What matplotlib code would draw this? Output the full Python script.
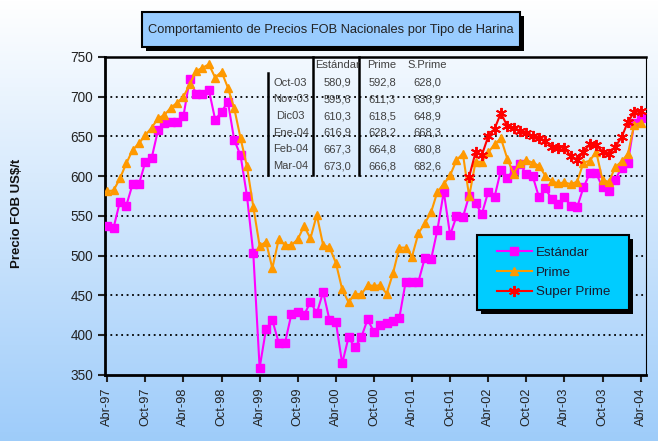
import matplotlib
matplotlib.use("Agg")
import matplotlib.pyplot as plt
from matplotlib.patches import Rectangle
import numpy as np

plt.rcParams["font.family"] = ["Liberation Sans Narrow", "Liberation Sans", "DejaVu Sans"]

## ----- data (Abr-97 ... , monthly) -----
estandar = [537.5, 535, 568, 563, 590, 590, 618, 623, 658, 667,
            668.5, 668.5, 675.7, 722.3, 703.4, 703.4, 708.8, 671, 681, 693.7,
            645.5, 626, 575.3, 502.8, 358.7, 407, 418.8, 390.2, 390.2, 426.3,
            429.2, 425, 441.8, 427.2, 454.4, 418.8, 416.7, 364.2, 397, 384.4,
            397, 419.6, 404, 412, 414.6, 417.5, 421.6, 467, 467, 467,
            496.5, 495.2, 532.5, 580.4, 525.8, 549.5, 548, 575.5, 565.7, 552.3,
            580.4, 574, 607.7, 597.8, 608, 615.5, 602.6, 600, 573.3, 584.6,
            570.8, 564.9, 574, 562.3, 560.7, 585.9, 603.5, 603.5, 585.9, 580.9,
            595.6, 610.3, 616.9, 667.3, 673.0]

prime = [581, 582, 597.2, 616, 633, 641.3, 651.8, 661, 672.8, 677,
         686, 692.4, 700, 715.6, 732.4, 736.5, 740.8, 724, 731.5, 711.4,
         685.4, 647.6, 612.3, 561.5, 512, 517.4, 483.9, 520.3, 513.2, 513.2,
         520.3, 537.2, 521.6, 551, 513.2, 510.3, 491, 457.4, 441.2, 452,
         451, 462.4, 462, 462.4, 452, 477.6, 510, 510, 498.8, 528,
         540.5, 554.6, 580.4, 590, 601, 620, 628.5, 574.5, 618, 618,
         630, 640, 647.6, 622, 603, 617, 620, 617, 613, 600.4,
         593.6, 591, 592, 590, 593, 617, 619.4, 630.8, 595, 592.8,
         611.3, 618.5, 628.2, 664.8, 666.8]

# Super Prime starts 57 months after the first point
sprime_start = 57
super_prime = [599.3, 630, 626.6, 650, 659.6, 679.5, 663, 660.2, 657.2, 654.7,
               650, 648, 644.6, 637, 636, 636, 625, 620, 630.8, 640,
               639, 631, 628.0, 636.9, 648.9, 668.3, 680.8, 682.6]

x_labels = ["Abr-97", "Oct-97", "Abr-98", "Oct-98", "Abr-99", "Oct-99", "Abr-00",
            "Oct-00", "Abr-01", "Oct-01", "Abr-02", "Oct-02", "Abr-03", "Oct-03",
            "Abr-04"]

# small table in the chart
tab_months = ["Oct-03", "Nov-03", "Dic03", "Ene-04", "Feb-04", "Mar-04"]
tab_est = [580.9, 595.6, 610.3, 616.9, 667.3, 673.0]
tab_prime = [592.8, 611.3, 618.5, 628.2, 664.8, 666.8]
tab_sprime = [628.0, 636.9, 648.9, 668.3, 680.8, 682.6]
tab_header = ["Estándar", "Prime", "S.Prime"]

## ----- figure -----
W, H = 658, 441
fig = plt.figure(figsize=(W / 100, H / 100), dpi=100)


def fx(p):
    return p / W


def fy(p):
    return 1 - p / H


# background gradient
bg = fig.add_axes([0, 0, 1, 1], zorder=-10)
grad = np.linspace(0, 1, 256)[:, None]
top = np.array([1.0, 1.0, 1.0])
bot = np.array([0.62, 0.80, 0.98])
img = top[None, None, :] * (1 - grad[..., None]) + bot[None, None, :] * grad[..., None]
bg.imshow(img, aspect="auto", extent=[0, 1, 0, 1])
bg.axis("off")

ax = fig.add_axes([fx(104.7), fy(374.7), fx(645.7) - fx(104.7), fy(57) - fy(374.7)])
ax.set_facecolor("none")

x = np.arange(len(estandar))
x_sp = np.arange(sprime_start, sprime_start + len(super_prime))

lw0 = 1.5
ax.plot(x, estandar, color="#ff00ff", lw=lw0, marker="s", ms=5.2, mec="#ff00ff",
        label="Estándar", zorder=3)
ax.plot(x, prime, color="#ff9900", lw=lw0, marker="^", ms=5.5, mec="#ff9900",
        label="Prime", zorder=4)
ax.plot(x_sp, super_prime, color="#ff0000", lw=lw0, marker=(6, 2, 0), ms=8, mew=1.4,
        mec="#ff0000", label="Super Prime", zorder=5)

ax.set_xlim(-0.4, 84.8)
ax.set_ylim(350, 750)
ax.set_xticks(np.arange(0, 85, 6), x_labels, rotation=90)
ax.set_yticks(np.arange(350, 751, 50))
ax.tick_params(axis="both", labelsize=9.2, colors="#222222", direction="out",
               length=5, width=1.5)
ax.tick_params(axis="x", pad=4)
ax.tick_params(axis="y", labelsize=9.8)

for v in range(400, 701, 50):
    ax.axhline(v, color="black", lw=1.3, ls=(0, (1, 2)), zorder=1)

for s in ["left", "bottom"]:
    ax.spines[s].set_linewidth(2)
ax.spines["top"].set_linewidth(1.8)
ax.spines["right"].set_linewidth(0.8)

fig.text(fx(17), fy(213), "Precio FOB US\\$/t", rotation=90, ha="center", va="center",
         fontsize=9.5, fontweight="bold", color="#111111")

## ----- title box -----
fig.patches.append(Rectangle((fx(146), fy(51)), fx(524) - fx(146), fy(16) - fy(51),
                             transform=fig.transFigure, facecolor="black", zorder=5))
fig.patches.append(Rectangle((fx(142), fy(47)), fx(520) - fx(142), fy(12) - fy(47),
                             transform=fig.transFigure, facecolor="#99ccff",
                             edgecolor="black", lw=1.5, zorder=6))
fig.text(fx(331), fy(30), "Comportamiento de Precios FOB Nacionales por Tipo de Harina",
         ha="center", va="center", fontsize=9.3, color="#222222", zorder=7)

## ----- table -----
tcol = "#404040"
fs_t = 8
col_x = [290.7, 337, 382, 427.5]
for c, h in zip(col_x[1:], tab_header):
    fig.text(fx(c), fy(65), h, ha="center", va="center", fontsize=fs_t, color=tcol)
for i, m in enumerate(tab_months):
    yy = fy(82.7 + 16.7 * i)
    fig.text(fx(col_x[0]), yy, m, ha="center", va="center", fontsize=fs_t, color=tcol)
    for c, vals in zip(col_x[1:], [tab_est, tab_prime, tab_sprime]):
        fig.text(fx(c), yy, f"{vals[i]:.1f}".replace(".", ","), ha="center",
                 va="center", fontsize=fs_t, color=tcol)

fig.lines.append(plt.Line2D([fx(267.5)] * 2, [fy(73), fy(175)], color="black", lw=1.8,
                            transform=fig.transFigure))
for xl in [313.3, 359.3]:
    fig.lines.append(plt.Line2D([fx(xl)] * 2, [fy(57), fy(175)], color="black", lw=1.8,
                                transform=fig.transFigure))

## ----- legend box -----
fig.patches.append(Rectangle((fx(481), fy(314)), fx(633) - fx(481), fy(239) - fy(314),
                             transform=fig.transFigure, facecolor="black", zorder=8))
fig.patches.append(Rectangle((fx(477), fy(310)), fx(629) - fx(477), fy(235) - fy(310),
                             transform=fig.transFigure, facecolor="#00ccff",
                             edgecolor="black", lw=1.5, zorder=9))
leg = ax.legend(loc="center left", bbox_to_anchor=(fx(497), fy(272.5)),
                bbox_transform=fig.transFigure, frameon=False, fontsize=9.6,
                handlelength=2.6, handletextpad=0.3, labelspacing=0.55,
                borderpad=0, borderaxespad=0, numpoints=1)
leg.set_zorder(10)
for t in leg.get_texts():
    t.set_color("#1a1a2e")
fig.legends.append(leg)
ax.get_legend().remove()

fig.savefig("out.png", dpi=100)
